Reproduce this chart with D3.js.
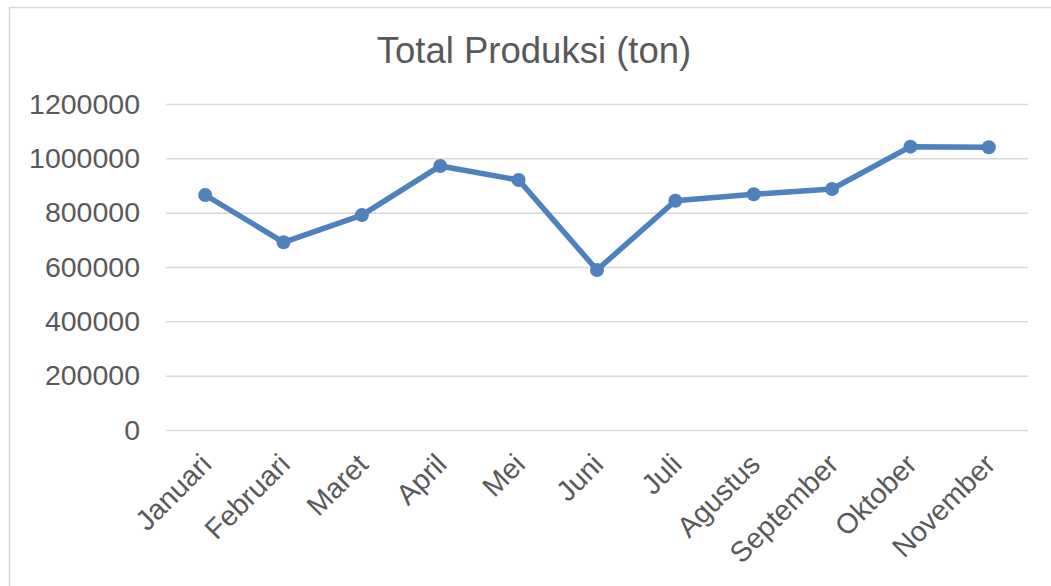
<!DOCTYPE html>
<html>
<head>
<meta charset="utf-8">
<script src="https://cdn.jsdelivr.net/npm/d3@7"></script>
<style>
  body { margin: 0; background: #fff; }
  svg text { font-family: "Liberation Sans", Arial, sans-serif; fill: #595959; }
</style>
</head>
<body>
<script>

let width = 1051;
let height = 586;

// Data
let months = ["Januari", "Februari", "Maret", "April", "Mei", "Juni", "Juli",
    "Agustus", "September", "Oktober", "November"];
let produksi = [865000, 691000, 791000, 972000, 920000, 589000, 844000,
    868000, 887000, 1043000, 1041000];
let yTicks = [0, 200000, 400000, 600000, 800000, 1000000, 1200000];

let margin = {top: 104, right: 23, bottom: 156, left: 166};

let svg = d3.select("body").append("svg")
    .attr("width", width)
    .attr("height", height);

// chart border
svg.append("rect")
    .attr("x", 9.5)
    .attr("y", 7.5)
    .attr("width", width + 20)
    .attr("height", height + 20)
    .attr("fill", "none")
    .attr("stroke", "#d9d9d9")
    .attr("stroke-width", 1.5);

let x = d3.scaleBand()
    .domain(months)
    .range([margin.left, width - margin.right]);

let y = d3.scaleLinear()
    .domain([0, 1200000])
    .range([height - margin.bottom, margin.top]);

// Title
svg.append("text")
    .attr("x", 534)
    .attr("y", 63)
    .attr("text-anchor", "middle")
    .style("font-size", "36.5px")
    .text("Total Produksi (ton)");

// Gridlines + y labels
let yAxis = d3.axisLeft(y)
    .tickValues(yTicks)
    .tickSize(-(width - margin.left - margin.right))
    .tickPadding(26)
    .tickFormat(d3.format("d"));

let gy = svg.append("g")
    .attr("transform", "translate(" + margin.left + ",0)")
    .call(yAxis);
gy.select(".domain").remove();
gy.selectAll(".tick line")
    .attr("stroke", "#d9d9d9")
    .attr("stroke-width", 1.5);
gy.selectAll(".tick text")
    .style("font-size", "28.5px")
    .style("fill", "#595959");

// x labels, rotated
let xAxis = d3.axisBottom(x).tickSize(0).tickPadding(0);
let gx = svg.append("g")
    .attr("transform", "translate(0," + (height - margin.bottom) + ")")
    .call(xAxis);
gx.select(".domain").remove();
gx.selectAll(".tick text")
    .style("font-size", "28.5px")
    .style("fill", "#595959")
    .attr("text-anchor", "end")
    .attr("dy", null)
    .attr("y", 0)
    .attr("transform", "translate(1,29) rotate(-45)")
    .attr("dominant-baseline", "central");

// Line
let line = d3.line()
    .x((d, i) => x(months[i]) + x.bandwidth() / 2)
    .y(d => y(d));

svg.append("path")
    .datum(produksi)
    .attr("fill", "none")
    .attr("stroke", "#4f81bd")
    .attr("stroke-width", 5.5)
    .attr("stroke-linejoin", "round")
    .attr("d", line);

svg.selectAll(".dot")
    .data(produksi)
    .enter()
    .append("circle")
    .attr("class", "dot")
    .attr("cx", (d, i) => x(months[i]) + x.bandwidth() / 2)
    .attr("cy", d => y(d))
    .attr("r", 7)
    .attr("fill", "#4f81bd");

</script>
</body>
</html>
